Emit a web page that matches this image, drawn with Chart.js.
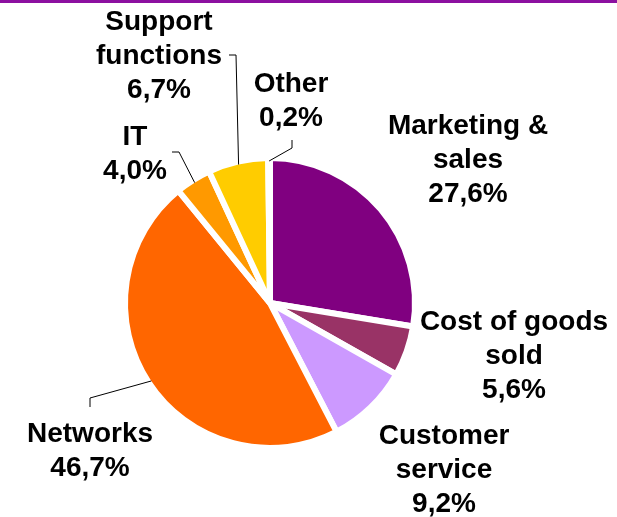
<!DOCTYPE html>
<html>
<head>
<meta charset="utf-8">
<script src="https://cdn.jsdelivr.net/npm/chart.js@4/dist/chart.umd.min.js"></script>
<style>
  body { margin: 0; background: #fff; }
  #wrap { position: relative; width: 617px; height: 517px; }
  #topbar { position: absolute; left: 0; top: 0; width: 617px; height: 3px; background: #8c10a0; }
  canvas { position: absolute; left: 0; top: 0; }
</style>
</head>
<body>
<div id="wrap">
  <canvas id="pizza" width="617" height="517"></canvas>
  <div id="topbar"></div>
</div>
<script>
const categories = ["Marketing & sales", "Cost of goods sold", "Customer service", "Networks", "IT", "Support functions", "Other"];
const shares = [27.6, 5.6, 9.2, 46.7, 4.0, 6.7, 0.2];
const sliceColors = ["#800080", "#993366", "#cc99ff", "#ff6600", "#ff9900", "#ffcc00", "#ffff99"];

// where each label sits (centre x, first baseline y) and optional leader elbow
const labelLayout = [
  { x: 468, y: 134 },
  { x: 514, y: 330 },
  { x: 444, y: 444 },
  { x: 90, y: 442, leader: [[90, 407], [90, 398]] },
  { x: 135, y: 145, leader: [[172, 152], [179, 152]] },
  { x: 159, y: 30, leader: [[229, 55], [236, 55]] },
  { x: 291, y: 92, leader: [[292, 140], [292, 148]] },
];

const labelFont = "bold 28px 'Liberation Sans', Arial, sans-serif";
const lineHeight = 34;
const wrapWidth = 200;
const sliceBorder = 6;

function formatShare(v) {
  return v.toFixed(1).replace(".", ",") + "%";
}

function wrapText(ctx, text) {
  const words = text.split(" ");
  const lines = [];
  let line = "";
  words.forEach((w) => {
    const test = line ? line + " " + w : w;
    if (line && ctx.measureText(test).width > wrapWidth) {
      lines.push(line);
      line = w;
    } else {
      line = test;
    }
  });
  lines.push(line);
  return lines;
}

const sliceLabels = {
  id: "sliceLabels",
  afterDatasetsDraw(chart) {
    const ctx = chart.ctx;
    const arcs = chart.getDatasetMeta(0).data;
    ctx.save();
    ctx.font = labelFont;
    ctx.fillStyle = "#000";
    ctx.textAlign = "center";
    ctx.textBaseline = "alphabetic";

    arcs.forEach((arc, i) => {
      const pos = labelLayout[i];
      const lines = wrapText(ctx, categories[i]);
      lines.push(formatShare(shares[i]));
      lines.forEach((line, j) => {
        ctx.fillText(line, pos.x, pos.y + j * lineHeight);
      });

      if (pos.leader) {
        const p = arc.getProps(["x", "y", "startAngle", "endAngle", "outerRadius"], true);
        const mid = (p.startAngle + p.endAngle) / 2;
        const r = p.outerRadius - sliceBorder / 2;
        ctx.beginPath();
        ctx.strokeStyle = "#000";
        ctx.lineWidth = 1;
        ctx.moveTo(pos.leader[0][0], pos.leader[0][1]);
        ctx.lineTo(pos.leader[1][0], pos.leader[1][1]);
        ctx.lineTo(p.x + r * Math.cos(mid), p.y + r * Math.sin(mid));
        ctx.stroke();
      }
    });
    ctx.restore();
  },
};

const pizza = document.getElementById("pizza").getContext("2d");

new Chart(pizza, {
  type: "pie",
  data: {
    labels: categories,
    datasets: [
      {
        data: shares,
        backgroundColor: sliceColors,
        borderColor: "#ffffff",
        borderWidth: sliceBorder,
      },
    ],
  },
  options: {
    responsive: false,
    animation: false,
    layout: {
      padding: { left: 122, right: 199, top: 155, bottom: 66 },
    },
    plugins: {
      legend: { display: false },
      tooltip: { enabled: false },
    },
  },
  plugins: [sliceLabels],
});
</script>
</body>
</html>
